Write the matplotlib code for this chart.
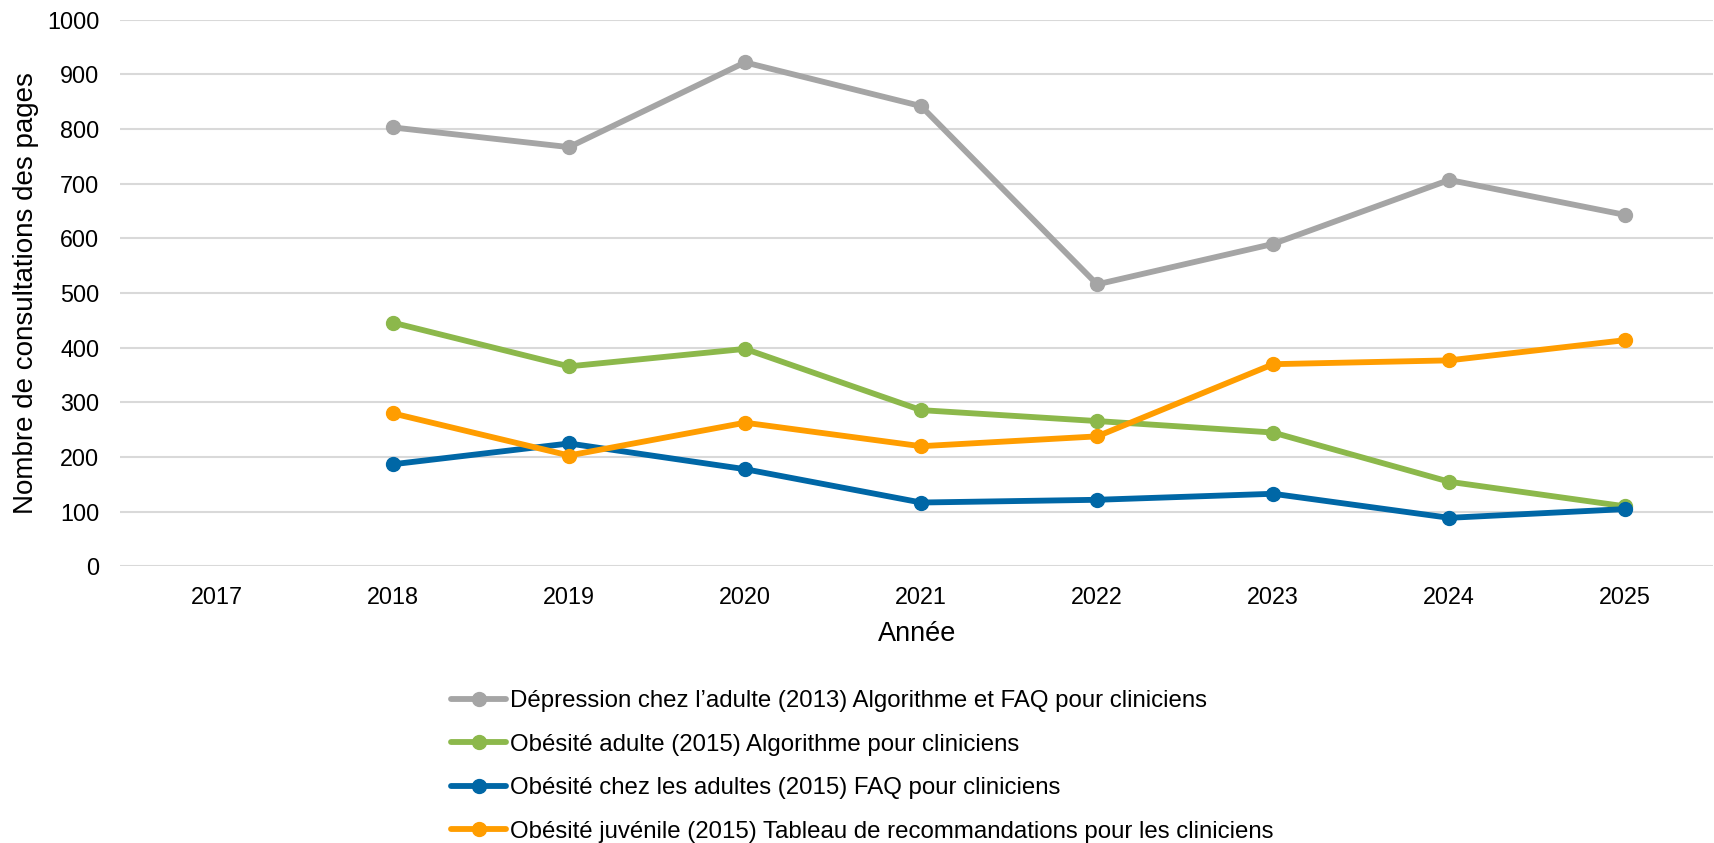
import matplotlib
matplotlib.use("Agg")
import matplotlib.pyplot as plt

plt.rcParams['font.family'] = ['Liberation Sans', 'DejaVu Sans']

years = ["2017", "2018", "2019", "2020", "2021", "2022", "2023", "2024", "2025"]

# No data for 2017: series start in 2018
depression_adulte = [None, 803, 767, 922, 842, 516, 590, 707, 643]
obesite_adulte_algo = [None, 446, 366, 398, 286, 266, 245, 155, 110]
obesite_adultes_faq = [None, 187, 225, 178, 117, 122, 133, 89, 105]
obesite_juvenile = [None, 280, 203, 263, 220, 238, 370, 377, 414]

series_labels = [
    "Dépression chez l\u2019adulte (2013) Algorithme et FAQ pour cliniciens",
    "Obésité adulte (2015) Algorithme pour cliniciens",
    "Obésité chez les adultes (2015) FAQ pour cliniciens",
    "Obésité juvénile (2015) Tableau de recommandations pour les cliniciens",
]
series_colors = ["#A5A5A5", "#8CB84B", "#0067A6", "#FF9D00"]

fig = plt.figure(figsize=(17.15, 8.43), dpi=100)
ax = fig.add_axes([0.070, 0.328, 0.929, 0.6486])

x = list(range(len(years)))
handles = []
for vals, lab, col in zip(
    [depression_adulte, obesite_adulte_algo, obesite_adultes_faq, obesite_juvenile],
    series_labels, series_colors,
):
    xs = [xi for xi, v in zip(x, vals) if v is not None]
    ys = [v for v in vals if v is not None]
    h, = ax.plot(xs, ys, color=col, lw=4.2, marker='o', ms=10,
                 solid_capstyle='round', label=lab, zorder=3)
    handles.append(h)

ax.set_xlim(-0.55, 8.5)
ax.set_ylim(0, 1000)
ax.set_yticks(range(0, 1001, 100))
ax.set_xticks(x)
ax.set_xticklabels(years)
ax.tick_params(axis='both', length=0, labelsize=16.8, colors='black')
ax.tick_params(axis='y', pad=15)
ax.tick_params(axis='x', pad=14)
ax.grid(axis='y', color='#D9D9D9', lw=1.5, zorder=0)
ax.set_axisbelow(True)
for s in ax.spines.values():
    s.set_visible(False)

ax.set_xlabel("Année", fontsize=19.5, labelpad=9)
ax.set_ylabel("Nombre de consultations des pages", fontsize=20, labelpad=6)

fig.legend(handles=handles, loc='upper left', bbox_to_anchor=(0.263, 0.181),
           frameon=False, fontsize=17.3, handlelength=2.3, handletextpad=0.15,
           labelspacing=0.89, numpoints=1, borderaxespad=0, borderpad=0)

fig.savefig("out.png", dpi=100)
